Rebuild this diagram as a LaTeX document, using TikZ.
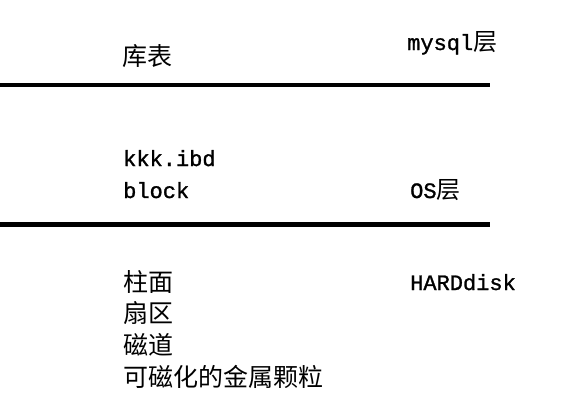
\documentclass[tikz,border=0pt]{standalone}
\usepackage{fontspec}
\newfontfamily\cjk{Noto Sans CJK SC}
\newfontfamily\mono[FakeBold=1.2]{Liberation Mono}
\tikzset{
  layerline/.style={line width=4.5pt, line cap=butt},
  cjktxt/.style={anchor=base west, inner sep=0pt, font=\cjk\fontsize{25}{25}\selectfont},
  latintxt/.style={anchor=base west, inner sep=0pt, font=\mono\fontsize{22}{22}\selectfont},
}
\begin{document}
\begin{tikzpicture}[x=1pt,y=-1pt]
\useasboundingbox (0,0) rectangle (562,418);
% layer separators
\coordinate (l1a) at (0,85);
\coordinate (l1b) at (490,85);
\coordinate (l2a) at (0,224.5);
\coordinate (l2b) at (490,224.5);
\draw[layerline] (l1a) -- (l1b);
\draw[layerline] (l2a) -- (l2b);
% mysql layer
\node[cjktxt] (kubiao) at (122,65) {库表};
\node[latintxt] (mysql) at (407,50) {mysql{\cjk\fontsize{24}{24}\selectfont 层}};
% OS layer
\node[latintxt] (ibd) at (123,166) {kkk.ibd};
\node[latintxt] (block) at (123,198) {block};
\node[latintxt] (os) at (410,198) {OS{\cjk\fontsize{24}{24}\selectfont 层}};
% hard disk layer
\node[cjktxt] (zhumian) at (123,291) {柱面};
\node[latintxt] (hd) at (410,290) {HARDdisk};
\node[cjktxt] (shanqu) at (123,322.5) {扇区};
\node[cjktxt] (cidao) at (123,354) {磁道};
\node[cjktxt] (keci) at (123,386) {可磁化的金属颗粒};
\end{tikzpicture}
\end{document}
